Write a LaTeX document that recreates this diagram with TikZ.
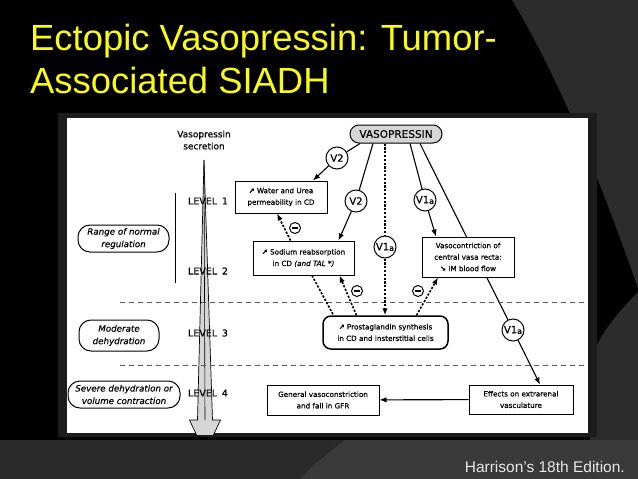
\documentclass[tikz,border=0pt]{standalone}
\usepackage{fontspec}
\setmainfont{DejaVu Sans}[FakeBold=0.45]
\newfontfamily\titlefont{Liberation Sans}
\usetikzlibrary{arrows.meta}

\definecolor{slidegray}{RGB}{44,44,44}
\definecolor{banddark}{RGB}{42,42,42}
\definecolor{bandlight}{RGB}{58,58,58}
\definecolor{framegray}{RGB}{28,28,28}
\definecolor{titleyellow}{RGB}{250,250,25}
\definecolor{footgray}{RGB}{232,232,232}
\definecolor{pillgray}{RGB}{214,214,214}
\definecolor{wedgegray}{RGB}{214,214,214}
\definecolor{levelgray}{RGB}{90,90,90}

\pgfdeclarelayer{back}
\pgfdeclarelayer{behind}
\pgfsetlayers{back,behind,main}

\tikzset{
  box/.style={draw, line width=1pt, fill=white, align=center, inner sep=1pt,
    font=\fontsize{7.2}{11.5}\selectfont},
  tag/.style={draw, line width=1pt, rounded corners=12pt, fill=white, align=center,
    inner sep=1pt, font=\fontsize{8.7}{12.5}\selectfont\itshape},
  recep/.style={circle, draw, line width=1pt, fill=white, minimum size=22pt,
    inner sep=0pt, font=\fontsize{10}{10}\selectfont},
  inhib/.style={circle, draw, line width=1pt, fill=white, minimum size=11pt,
    inner sep=0pt},
  level/.style={font=\fontsize{9.5}{10}\selectfont},
  link/.style={line width=1.1pt},
  dotlink/.style={line width=1.6pt, dash pattern=on 2.2pt off 1.6pt},
  arrowed/.style={-{Latex[length=7pt,width=5.5pt]}},
  levelline/.style={line width=0.9pt, levelgray, dash pattern=on 5pt off 4pt},
}
\newcommand{\upar}{\textbf{↗}}
\newcommand{\downar}{\textbf{↘}}
\newcommand{\vonea}{V1\raisebox{-0.6pt}{\fontsize{8}{8}\selectfont a}}
\newcommand{\minusbar}{\rule{5.5pt}{1.3pt}}

\begin{document}
\begin{tikzpicture}[x=1pt, y=-1pt]
  \useasboundingbox (0,0) rectangle (638,479);

  \begin{pgfonlayer}{back}
    % slide background
    \fill[black] (0,0) rectangle (638,479);
    \fill[slidegray] (512,0) .. controls (560,80) and (600,180) .. (638,288) -- (638,0) -- cycle;
    \fill[slidegray] (638,292) .. controls (615,315) and (600,335) .. (590,360) -- (590,479) -- (638,479) -- cycle;
    \fill[banddark] (0,440) rectangle (638,479);
    \fill[bandlight] (345,440) .. controls (325,455) and (310,468) .. (300,479) -- (638,479) -- (638,440) -- cycle;
    % panel
    \fill[framegray] (58,113) rectangle (597,437);
    \fill[white] (67,118) rectangle (588,433);
  \end{pgfonlayer}

  % title and source
  \node[anchor=base west, inner sep=0pt, text=titleyellow,
        font=\titlefont\fontsize{36.4}{43}\selectfont] (titleA) at (30,50) {Ectopic Vasopressin: Tumor-};
  \node[anchor=base west, inner sep=0pt, text=titleyellow,
        font=\titlefont\fontsize{36.4}{43}\selectfont] (titleB) at (30,93) {Associated SIADH};
  \node[anchor=base east, inner sep=0pt, text=footgray,
        font=\titlefont\fontsize{15.5}{18}\selectfont] (source) at (625,472) {Harrison’s 18th Edition.};

  % secretion arrow
  \begin{scope}
    \clip (67,118) rectangle (588,434);
    \draw[fill=wedgegray, line width=0.7pt] (204,160) -- (212.5,420) -- (220.5,420) -- (205,453)
      -- (189.5,420) -- (197.5,420) -- cycle;
    \draw[line width=0.6pt] (204,160) -- (205,420);
  \end{scope}
  \node[align=center, font=\fontsize{9}{12}\selectfont] (secretion) at (204,140) {Vasopressin\\secretion};
  \draw[line width=1pt] (175,193) -- (175,283);

  % levels
  \draw[levelline] (120,302) -- (588,302);
  \draw[levelline] (120,365) -- (588,365);
  \node[level] (lvA) at (208,201) {LEVEL\enspace1};
  \node[level] (lvB) at (208,271) {LEVEL\enspace2};
  \node[level] (lvC) at (208,333) {LEVEL\enspace3};
  \node[level] (lvD) at (208,393) {LEVEL\enspace4};

  \node[tag, minimum width=91pt, minimum height=27pt] (normal) at (123.5,238.5) {Range of normal\\regulation};
  \node[tag, minimum width=80pt, minimum height=31pt] (moderate) at (119,335.5) {Moderate\\dehydration};
  \node[tag, minimum width=112pt, minimum height=27pt] (severe) at (124,394.5) {Severe dehydration or\\volume contraction};

  % hormone and receptors
  \node[draw, line width=1pt, fill=pillgray, rounded corners=9pt, minimum width=92pt,
        minimum height=18pt, inner sep=0pt, font=\fontsize{10.5}{11}\selectfont] (vaso) at (396,134) {VASOPRESSIN};
  \node[recep] (vtwoA) at (337,158) {V2};
  \node[recep] (vtwoB) at (356,201) {V2};
  \node[recep] (voneb) at (425,200) {\vonea};
  \node[recep] (vonea) at (385,247) {\vonea};
  \node[recep] (vonec) at (513,330) {\vonea};

  % effects
  \node[box, minimum width=92pt, minimum height=32pt] (water) at (281,197)
    {\upar\ Water and Urea\\permeability in CD};
  \node[box, minimum width=101pt, minimum height=34pt] (sodium) at (303.5,258)
    {\upar\ Sodium reabsorption\\in CD \textit{(and TAL *)}};
  \node[box, minimum width=92pt, minimum height=40pt] (vasocon) at (468,257)
    {Vasocontriction of\\central vasa recta:\\\downar\ IM blood flow};
  \node[box, line width=1.5pt, rounded corners=8pt, minimum width=125pt, minimum height=33pt] (prosta) at (385.5,332.5)
    {\upar\ Prostaglandin synthesis\\in CD and insterstitial cells};
  \node[box, minimum width=112pt, minimum height=30pt] (general) at (323,400)
    {General vasoconstriction\\and fall in GFR};
  \node[box, minimum width=104pt, minimum height=29pt] (effects) at (521,399.5)
    {Effects on extrarenal\\vasculature};

  \node[inhib] (inhA) at (295,228) {\minusbar};
  \node[inhib] (inhB) at (357,291) {\minusbar};
  \node[inhib] (inhC) at (418,291) {\minusbar};

  % connectors
  \draw[link] ([xshift=-36pt]vaso.south) -- (vtwoA);
  \draw[link, arrowed] (vtwoA) -- ([xshift=32pt]water.north);
  \draw[link] ([xshift=-23pt]vaso.south) -- (vtwoB);
  \draw[link, arrowed] (vtwoB) -- ([xshift=35pt]sodium.north);
  \draw[dotlink] (vaso.south -| vonea) -- (vonea);
  \draw[dotlink, arrowed] (vonea) -- (vonea |- prosta.north);
  \draw[link] ([xshift=14pt]vaso.south) -- (voneb);
  \draw[link, arrowed] (voneb) -- ([xshift=-32pt]vasocon.north);
  \begin{pgfonlayer}{behind}
    \draw[link] ([xshift=24pt]vaso.south) -- (vonec);
  \end{pgfonlayer}
  \draw[link, arrowed] (vonec) -- ([xshift=19pt]effects.north);
  \draw[dotlink] ([xshift=8.5pt]sodium.south) -- ([xshift=-52pt]prosta.north);
  \draw[dotlink, arrowed] ([xshift=-29pt]prosta.north) -- ([xshift=36pt]sodium.south);
  \draw[dotlink, arrowed] ([xshift=-13pt]sodium.north) -- ([xshift=-4pt]water.south);
  \draw[dotlink, arrowed] ([xshift=31pt]prosta.north) -- ([xshift=-30pt]vasocon.south);
  \draw[link, arrowed] (effects) -- (general);
\end{tikzpicture}
\end{document}
